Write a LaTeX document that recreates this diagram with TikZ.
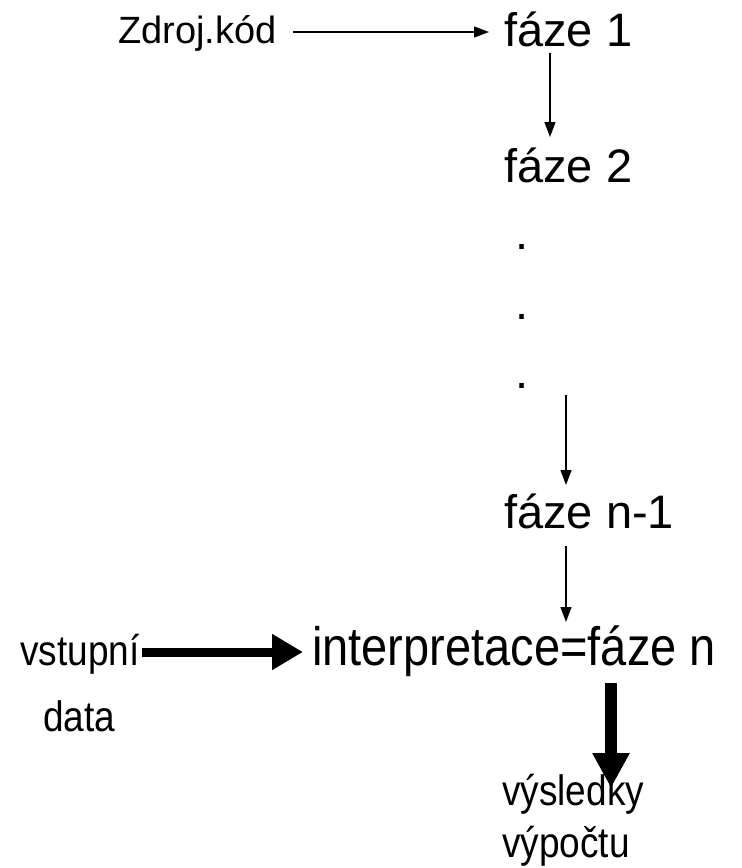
\documentclass[tikz,border=0pt]{standalone}
\usepackage{fontspec}
\setmainfont{Liberation Sans}
\usetikzlibrary{arrows.meta}

\begin{document}
\begin{tikzpicture}[x=1pt,y=-1pt,
  every node/.style={inner sep=0pt,anchor=base west},
  big/.style={font=\fontsize{47}{56}\selectfont},
  small/.style={font=\fontsize{37}{44}\selectfont,yscale=1.15},
  tall/.style={yscale=1.15},
  thinarrow/.style={line width=1.3pt,-{Triangle[width=11pt,length=15pt]}},
  fatarrow/.style={line width=9pt,-{Triangle[width=34pt,length=31pt]}},
  downarrow/.style={line width=12pt,-{Triangle[width=35pt,length=35pt]}}]

\useasboundingbox(0,0)rectangle(742,868);

\node[font=\fontsize{38}{45}\selectfont](zdroj)at(118,43){Zdroj.kód};
\node[big](f1)at(504,46){fáze 1};
\node[big](f2)at(504,182){fáze 2};
\foreach \y/\n in {249.5/d1,319.5/d2,388.5/d3}
  \node[big](\n)at(515,\y){.};
\node[big](fn1)at(504,528){fáze n-1};

\node[small](vstup)at(20,665){vstupní};
\node[small](data)at(43,731){data};
\node[big,tall](interp)at(312,665){interpretace=fáze n};
\node[small](vysl)at(502,805){výsledky};
\node[small](vypoc)at(502,857){výpočtu};

\draw[thinarrow]([xshift=175pt,yshift=11pt]zdroj.base west)--([xshift=-15pt,yshift=14pt]f1.base west);
\draw[thinarrow]([xshift=46pt,yshift=-7pt]f1.base west)--([xshift=46pt,yshift=45pt]f2.base west);
\draw[thinarrow]([xshift=51pt,yshift=-6.5pt]d3.base west)--([xshift=62pt,yshift=43pt]fn1.base west);
\draw[thinarrow]([xshift=62pt,yshift=-18pt]fn1.base west)--([xshift=254pt,yshift=43pt]interp.base west);

\draw[fatarrow]([xshift=122pt,yshift=13pt]vstup.base west)--([xshift=-9pt,yshift=13pt]interp.base west);
\draw[downarrow]([xshift=299pt,yshift=-18pt]interp.base west)--([xshift=109pt,yshift=17pt]vysl.base west);

\end{tikzpicture}
\end{document}
